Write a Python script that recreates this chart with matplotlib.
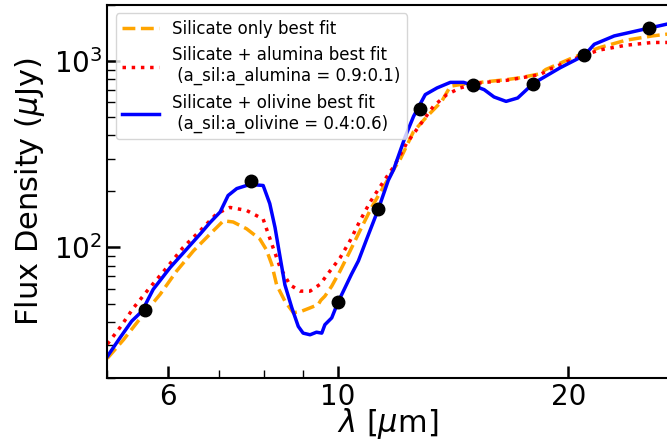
import matplotlib
matplotlib.use("Agg")
import matplotlib.pyplot as plt
from matplotlib.ticker import FixedLocator, NullFormatter, FixedFormatter, LogLocator

# Photometry (JWST/MIRI-like filters)
phot_wave = [5.6, 7.7, 10.0, 11.3, 12.8, 15.0, 18.0, 21.0, 25.5]
phot_flux = [46, 226, 51, 161, 553, 741, 758, 1074, 1503]

# Silicate only best fit
sil_wave = [5.0, 5.25, 5.57, 5.86, 6.16, 6.48, 6.81, 7.09, 7.30, 7.60, 7.91, 8.07, 8.20, 8.32,
            8.53, 8.75, 8.97, 9.20, 9.43, 9.50, 9.62, 9.82, 10.07, 10.38, 10.69, 11.07, 11.47,
            11.88, 12.05, 12.56, 13.08, 13.67, 14.03, 14.45, 15.35, 16.63, 17.27, 18.38, 18.70,
            20.26, 21.95, 23.78, 25.76, 26.89, 27.5]
sil_flux = [25.4, 32, 43.6, 56, 74.8, 96, 118, 139, 137, 126, 111, 97, 81, 63,
            51.5, 44.6, 45.5, 47.4, 49.4, 52, 54.8, 62, 74.8, 96, 123, 164, 211,
            270, 294, 419, 505, 608, 733, 748, 769, 796, 813, 855, 902,
            1042, 1180, 1294, 1365, 1394, 1400]

# Silicate + alumina best fit
alu_wave = [5.0, 5.19, 5.41, 5.68, 5.98, 6.28, 6.61, 6.95, 7.23, 7.60, 7.99, 8.07, 8.23,
            8.41, 8.66, 8.93, 9.20, 9.48, 9.77, 10.07, 10.38, 10.69, 11.02, 11.35, 11.70,
            11.83, 12.30, 12.81, 13.33, 13.88, 14.45, 15.35, 16.63, 17.27, 18.38, 18.89,
            20.26, 21.95, 23.78, 25.76, 26.89, 27.5]
alu_flux = [30.3, 37, 47.4, 60.8, 78, 100, 123, 152, 164, 158, 142, 126, 100,
            78, 63, 58.3, 58.3, 63.4, 74.8, 88, 109, 139, 175, 211, 254,
            270, 362, 455, 572, 661, 718, 764, 789, 810, 847, 902,
            1021, 1146, 1216, 1259, 1259, 1259]

# Silicate + olivine best fit
oli_wave = [5.0, 5.19, 5.38, 5.55, 5.74, 6.04, 6.32, 6.61, 6.81, 7.02, 7.19, 7.38, 7.68,
            7.99, 8.15, 8.28, 8.41, 8.53, 8.71, 8.88, 9.01, 9.20, 9.38, 9.53, 9.62, 9.82,
            10.0, 10.22, 10.42, 10.64, 10.91, 11.30, 11.64, 11.83, 12.25, 12.56, 13.01,
            13.48, 14.03, 14.60, 15.0, 15.53, 16.0, 16.59, 17.18, 18.0, 19.52, 21.0,
            21.63, 22.97, 25.5, 26.89, 27.5]
oli_flux = [26.0, 32.6, 40.2, 45.5, 59.6, 78, 96, 118, 136, 155, 190, 207, 218,
            215, 172, 128, 88, 63, 47.4, 37.7, 34.7, 34.0, 35.1, 34.7, 38.5, 41.9,
            50.5, 60.8, 71.8, 84.7, 111, 161, 229, 262, 393, 505, 661,
            718, 769, 769, 741, 703, 642, 608, 634, 758, 921, 1074,
            1231, 1365, 1503, 1578, 1600]

fig = plt.figure(figsize=(6.67, 4.47), dpi=100)
ax = fig.add_axes([0.1609, 0.155, 0.8406, 0.8338])

ax.plot(sil_wave, sil_flux, color='orange', ls='--', lw=2.5, label='Silicate only best fit')
ax.plot(alu_wave, alu_flux, color='red', ls=':', lw=2.5,
        label='Silicate + alumina best fit\n (a_sil:a_alumina = 0.9:0.1)')
ax.plot(oli_wave, oli_flux, color='blue', ls='-', lw=2.5,
        label='Silicate + olivine best fit\n (a_sil:a_olivine = 0.4:0.6)')
ax.plot(phot_wave, phot_flux, 'o', color='black', ms=9, zorder=5)

ax.set_xscale('log')
ax.set_yscale('log')
ax.set_xlim(5, 27)
ax.set_ylim(20, 2000)

xt = [6, 10, 20]
ax.xaxis.set_major_locator(FixedLocator(xt))
ax.xaxis.set_major_formatter(FixedFormatter([str(v) for v in xt]))
ax.xaxis.set_minor_locator(LogLocator(base=10, subs=[1, 2, 3, 4, 5, 6, 7, 8, 9]))
ax.xaxis.set_minor_formatter(NullFormatter())

ax.tick_params(which='major', direction='in', length=9, width=1.8, labelsize=20, top=False, right=False)
ax.tick_params(which='minor', direction='in', length=6, width=1.0, top=False, right=False)
for s in ax.spines.values():
    s.set_linewidth(1.5)

ax.set_xlabel(r'$\lambda$ [$\mu$m]', fontsize=22, labelpad=-3)
ax.set_ylabel(r'Flux Density ($\mu$Jy)', fontsize=22, labelpad=5)

ax.legend(loc='upper left', fontsize=12, handlelength=2.2, borderaxespad=0.5)

fig.savefig('out.png', dpi=100)
